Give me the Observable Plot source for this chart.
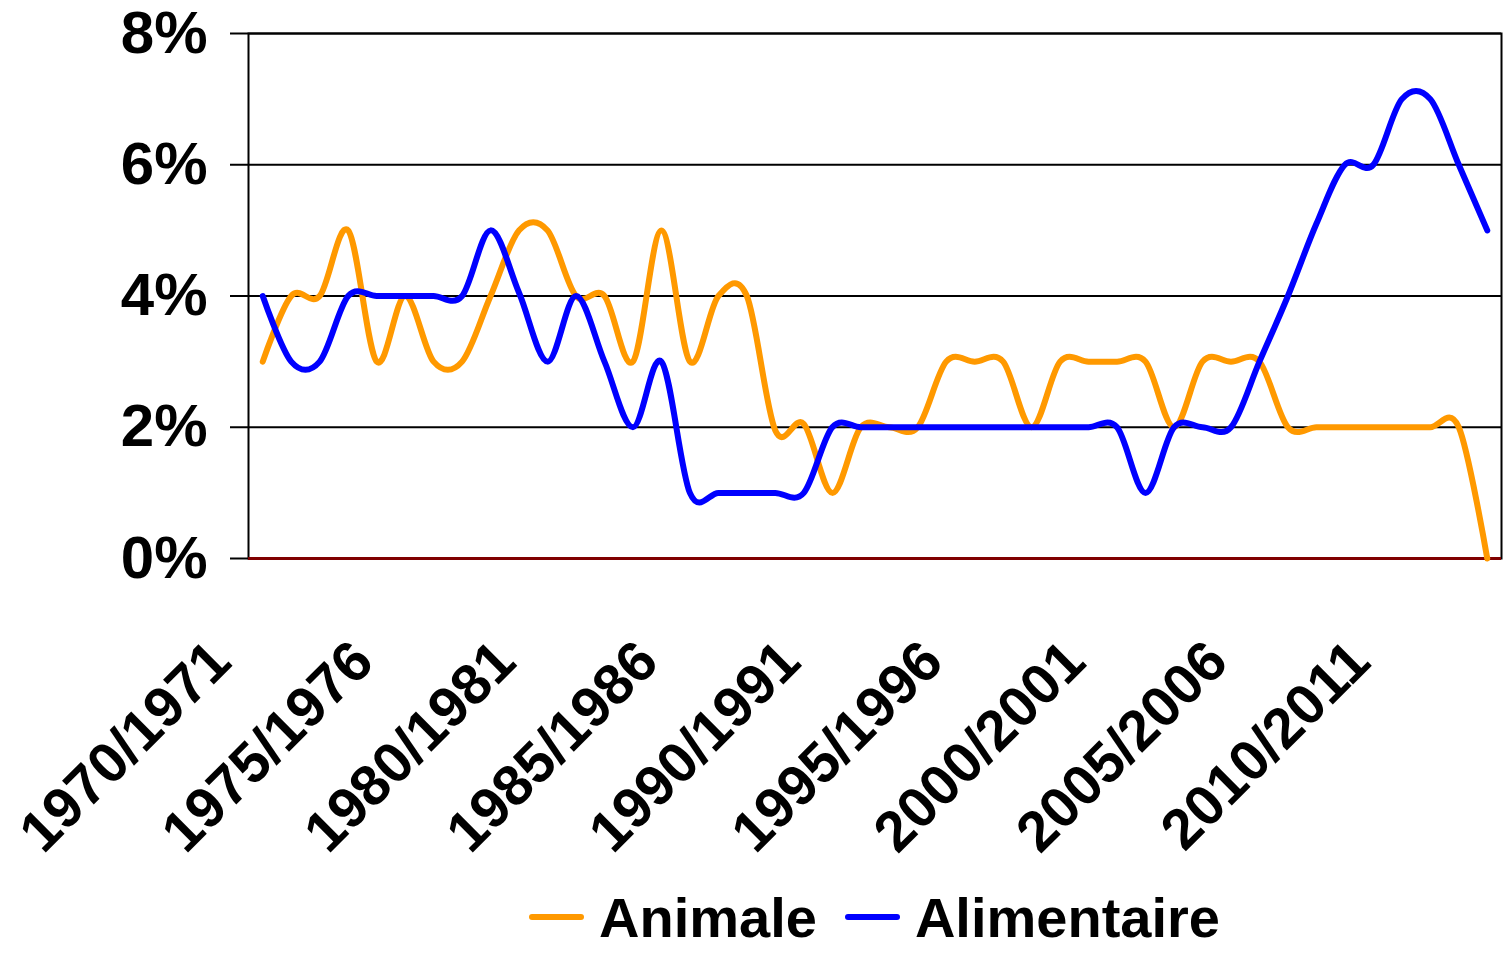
<!DOCTYPE html>
<html>
<head>
<meta charset="utf-8">
<script src="https://cdn.jsdelivr.net/npm/d3@7"></script>
<script src="https://cdn.jsdelivr.net/npm/@observablehq/plot@0.6"></script>
<style>
  html, body { margin: 0; padding: 0; background: #fff; }
  body { width: 1505px; height: 954px; position: relative; overflow: hidden; font-family: "Liberation Sans", Arial, sans-serif; }
  #legend { position: absolute; top: 880px; left: 248px; width: 1253px; height: 74px;
            display: flex; justify-content: center; align-items: center;
            font: bold 56px "Liberation Sans", Arial, sans-serif; color: #000; }
  .sw { display: inline-block; width: 55px; height: 6px; border-radius: 3px; margin-right: 15px; }
</style>
</head>
<body>
<div id="chart"></div>
<div id="legend">
  <span class="sw" style="background:#FF9900"></span><span>Animale</span>
  <span class="sw" style="background:#0000FF; margin-left:28px"></span><span>Alimentaire</span>
</div>
<script>
const years = [
  "1970/1971","1971/1972","1972/1973","1973/1974","1974/1975",
  "1975/1976","1976/1977","1977/1978","1978/1979","1979/1980",
  "1980/1981","1981/1982","1982/1983","1983/1984","1984/1985",
  "1985/1986","1986/1987","1987/1988","1988/1989","1989/1990",
  "1990/1991","1991/1992","1992/1993","1993/1994","1994/1995",
  "1995/1996","1996/1997","1997/1998","1998/1999","1999/2000",
  "2000/2001","2001/2002","2002/2003","2003/2004","2004/2005",
  "2005/2006","2006/2007","2007/2008","2008/2009","2009/2010",
  "2010/2011","2011/2012","2012/2013","2013/2014"
];
const tickLabels = ["1970/1971","1975/1976","1980/1981","1985/1986","1990/1991",
                    "1995/1996","2000/2001","2005/2006","2010/2011"];
const yTicks = [0, 2, 4, 6, 8];
const gridValues = [2, 4, 6, 8];

// Animale (%)
const animale = [3,4,4,5,3,4,3,3,4,5,5,4,4,3,5,3,4,4,1.95,2.05,1,2,2,2,3,3,3,2,3,3,3,3,2,3,3,3,2,2,2,2,2,2,2,0];
// Alimentaire (%)
const alimentaire = [4,3,3,4,4,4,4,4,5,4.05,3,4,3,2,3,1,1,1,1,1,2,2,2,2,2,2,2,2,2,2,2,1,2,2,2,3,4,5.1,6,6,7,7,6,5];

const FONT = '"Liberation Sans", Arial, sans-serif';
const H = 880;

const chart = Plot.plot({
  width: 1505,
  height: H,
  marginLeft: 248,
  marginRight: 4,
  marginTop: 33,
  marginBottom: H - 558,
  style: { fontFamily: FONT, color: "#000", background: "#fff", overflow: "visible" },
  x: { type: "point", domain: years, padding: 0.5, round: false, axis: null },
  y: { domain: [0, 8] },
  marks: [
    Plot.frame({ stroke: "#000", strokeWidth: 2 }),
    Plot.ruleY(gridValues, { stroke: "#000", strokeWidth: 2 }),
    Plot.ruleY([0], { stroke: "#800000", strokeWidth: 3 }),
    Plot.axisY({
      ticks: yTicks, tickSize: 18, tickPadding: 23, strokeWidth: 2,
      tickFormat: d => d + "%", fontSize: 60, fontWeight: "bold", label: null
    }),
    Plot.line(animale, {
      x: (d, i) => years[i], y: d => d, stroke: "#FF9900", strokeWidth: 6,
      curve: "cardinal", strokeLinejoin: "round", strokeLinecap: "round"
    }),
    Plot.line(alimentaire, {
      x: (d, i) => years[i], y: d => d, stroke: "#0000FF", strokeWidth: 6,
      curve: "cardinal", strokeLinejoin: "round", strokeLinecap: "round"
    }),
    Plot.text(tickLabels, {
      x: d => d, frameAnchor: "bottom", text: d => d,
      rotate: -45, textAnchor: "end", lineAnchor: "bottom",
      fontSize: 57, fontWeight: "bold", fill: "#000", dx: -29, dy: 106
    })
  ]
});
document.getElementById("chart").appendChild(chart);
</script>
</body>
</html>
